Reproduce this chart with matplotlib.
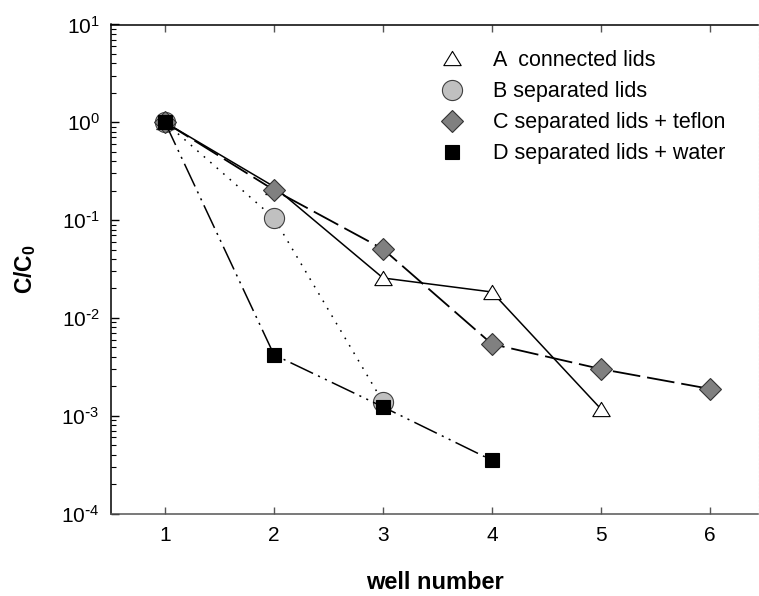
import matplotlib
matplotlib.use("Agg")
import matplotlib.pyplot as plt
from matplotlib.lines import Line2D
from matplotlib.path import Path
from matplotlib.ticker import FixedLocator, FuncFormatter
import numpy as np

plt.rcParams['font.family'] = ['Liberation Sans', 'DejaVu Sans']
plt.rcParams['mathtext.default'] = 'regular'
plt.rcParams['axes.unicode_minus'] = False
plt.rcParams['lines.scale_dashes'] = False

# ---- data ----
wells_A = [1, 2, 3, 4, 5]
vals_A = [1.0, 0.22, 0.0256, 0.0184, 0.00117]
wells_B = [1, 2, 3]
vals_B = [1.0, 0.105, 0.00138]
wells_C = [1, 2, 3, 4, 5, 6]
vals_C = [1.0, 0.203, 0.0506, 0.0054, 0.0030, 0.00188]
wells_D = [1, 2, 3, 4]
vals_D = [1.0, 0.0042, 0.00123, 0.00035]

labels = ["A  connected lids", "B separated lids",
          "C separated lids + teflon", "D separated lids + water"]
x_ticks = [1, 2, 3, 4, 5, 6]
y_exponents = [-4, -3, -2, -1, 0, 1]

W, H = 759, 596
fig = plt.figure(figsize=(W / 100, H / 100), dpi=100)
L, R, T, B = 110.7, 758.5, 24.5, 513.5
ax = fig.add_axes([L / W, (H - B) / H, (R - L) / W, (B - T) / H])

tri = Path([(0, 0.82), (-1, -0.82), (1, -0.82), (0, 0.82)],
           [Path.MOVETO, Path.LINETO, Path.LINETO, Path.CLOSEPOLY])

st_A = dict(color='black', lw=1.1, ls='-', marker=tri, ms=12.5, mfc='white',
            mec='black', mew=0.8)
st_B = dict(color='black', lw=1.1, ls=(0, (1.2, 5.0)), marker='o', ms=14.5,
            mfc='#c0c0c0', mec='#404040', mew=0.8)
st_C = dict(color='black', lw=1.3, ls=(0, (20, 5)), marker='D', ms=11.5,
            mfc='#808080', mec='#333333', mew=0.8)
st_D = dict(color='black', lw=1.1, ls=(0, (18, 4, 1.5, 4, 1.5, 4)), marker='s',
            ms=10.5, mfc='black', mec='black', mew=0.8)

ax.plot(wells_A, vals_A, zorder=3, **st_A)
ax.plot(wells_B, vals_B, zorder=4, **st_B)
ax.plot(wells_C, vals_C, zorder=5, **st_C)
ax.plot(wells_D, vals_D, zorder=6, **st_D)

ax.set_yscale('log')
ax.set_ylim(1e-4, 1e1)
ax.set_xlim(0.502, 6.445)
ax.set_xticks(x_ticks)
ax.set_xticklabels([str(v) for v in x_ticks])

ax.yaxis.set_major_locator(FixedLocator([10.0 ** e for e in y_exponents]))


def fmt(v, pos):
    e = int(round(np.log10(v)))
    if e < 0:
        return '10$^{\\text{-}%d}$' % (-e)
    return '10$^{%d}$' % e


ax.yaxis.set_major_formatter(FuncFormatter(fmt))

ax.tick_params(axis='both', which='both', direction='in', labelsize=15, colors='black')
ax.tick_params(axis='x', which='major', length=5, width=1, top=True, pad=9,
               color='#555555')
ax.tick_params(axis='x', which='minor', bottom=False, top=False)
ax.tick_params(axis='y', which='major', length=5.5, width=1, pad=8, right=False)
ax.tick_params(axis='y', which='minor', length=3.5, width=0.8, right=False)

for s in ['left', 'top']:
    ax.spines[s].set_linewidth(1.1)
    ax.spines[s].set_color('black')
ax.spines['bottom'].set_linewidth(1.1)
ax.spines['bottom'].set_color('#555555')
ax.spines['right'].set_color('#bbbbbb')
ax.spines['right'].set_linestyle((0, (1, 2)))
ax.spines['right'].set_linewidth(0.8)

ax.set_ylabel('C/C$_0$', fontsize=16.5, fontweight='bold')
ax.yaxis.set_label_coords(-0.112, 0.5)
ax.set_xlabel('well number', fontsize=17, fontweight='bold')
ax.xaxis.set_label_coords(0.5, -0.118)

handles = []
for st in (st_A, st_B, st_C, st_D):
    d = dict(st)
    d['ls'] = 'none'
    handles.append(Line2D([], [], **d))
leg = ax.legend(handles, labels, loc='upper left',
                bbox_to_anchor=(441.6 / W, (H - 50) / H),
                bbox_transform=fig.transFigure, frameon=False, fontsize=15.5,
                handlelength=1.0, handletextpad=1.4, labelspacing=0.47,
                borderpad=0, borderaxespad=0, numpoints=1)

fig.savefig('out.png', dpi=100)
